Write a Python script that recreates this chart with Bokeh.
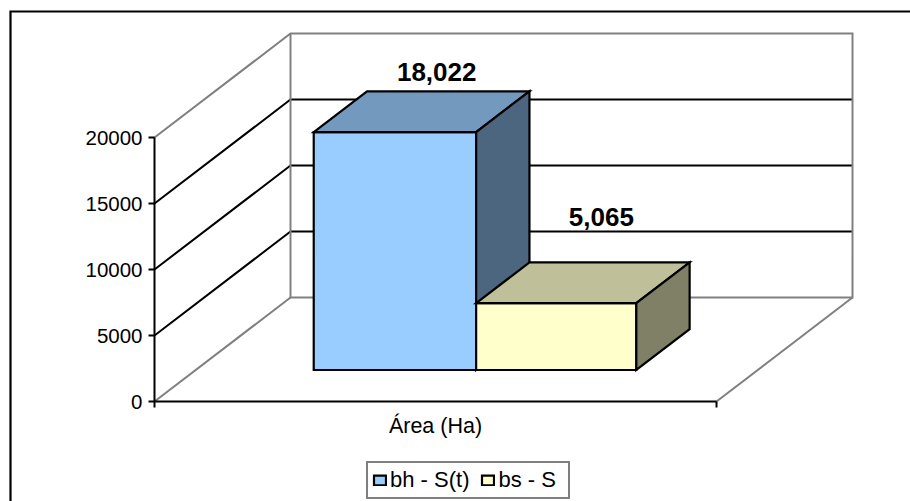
from bokeh.embed import file_html
from bokeh.resources import INLINE
from bokeh.core.properties import value
from bokeh.plotting import figure
from bokeh.models import BasicTickFormatter, FixedTicker, Legend, LegendItem, Range1d

# ---- data
category = "Área (Ha)"
series_names = ["bh - S(t)", "bs - S"]
series_values = [18022, 5065]
value_labels = ["18,022", "5,065"]
y_ticks = [0, 5000, 10000, 15000, 20000]

# ---- style
face_colors = ["#99CCFF", "#FFFFCC"]
top_colors = ["#7399BF", "#BFBF99"]
side_colors = ["#4C6680", "#808066"]
FONT = "Liberation Sans"
TICK_PX = "20.5px"
W, H = 910, 501

# ---- scales: the frame fills the canvas, the axes are pinned at (0, 0)
X0, Y0, X_PX, Y_PX = 154, 401, 562, 264 / 20000

# ---- oblique projection of the 3D category/value/depth box into data space
DEPTH_X = 136 / X_PX
DEPTH_Y = 104 / Y_PX
Y_TOP = y_ticks[-1]


def proj(u, v, d):
    return u + d * DEPTH_X, v + d * DEPTH_Y


def path(points):
    pts = [proj(*pt) for pt in points]
    return [a for a, _ in pts], [b for _, b in pts]


p = figure(width=W, height=H, output_backend="svg", toolbar_location=None,
           x_range=Range1d(-X0 / X_PX, (W - X0) / X_PX), y_range=Range1d(-(H - Y0) / Y_PX, Y0 / Y_PX),
           min_border=0, background_fill_color="white", border_fill_color="white", outline_line_color=None)
p.grid.visible = False

# chart area frame: only its top and left edges are in the picture
frame_left, frame_top = (10 - X0) / X_PX, (Y0 - 11) / Y_PX
p.line([frame_left, frame_left, (W + 5 - X0) / X_PX], [-(H + 5 - Y0) / Y_PX, frame_top, frame_top],
       line_color="black", line_width=2.2, line_join="miter")

# walls and floor
for v in y_ticks[1:-1]:
    xs, ys = path([(0, v, 0), (0, v, 1), (1, v, 1)])
    p.line(xs, ys, line_color="black", line_width=2)
for pts in ([(0, Y_TOP, 0), (0, Y_TOP, 1), (1, Y_TOP, 1), (1, 0, 1), (0, 0, 1), (0, Y_TOP, 1)],
            [(0, 0, 0), (0, 0, 1)], [(1, 0, 0), (1, 0, 1)]):
    xs, ys = path(pts)
    p.line(xs, ys, line_color="#808080", line_width=2, line_join="miter")

# bars
edges = [0.21, 0.499, 0.784]
d0, d1 = 0.303, 0.695
legend_items = []
for i, (name, val) in enumerate(zip(series_names, series_values)):
    u0, u1 = edges[i], edges[i + 1]
    kw = dict(line_color="black", line_width=2.2, line_join="miter")
    xs, ys = path([(u0, 0, d0), (u1, 0, d0), (u1, val, d0), (u0, val, d0)])
    face = p.patch(xs, ys, fill_color=face_colors[i], **kw)
    xs, ys = path([(u0, val, d0), (u1, val, d0), (u1, val, d1), (u0, val, d1)])
    p.patch(xs, ys, fill_color=top_colors[i], **kw)
    xs, ys = path([(u1, 0, d0), (u1, 0, d1), (u1, val, d1), (u1, val, d0)])
    p.patch(xs, ys, fill_color=side_colors[i], **kw)
    legend_items.append(LegendItem(label=name, renderers=[face]))

# value labels
label_lift = [2130, 3900]
label_depth = [0.61, 0.635]
centers = [(edges[i] + edges[i + 1]) / 2 for i in range(2)]
lab = [proj(c, v + l, d) for c, v, l, d in zip(centers, series_values, label_lift, label_depth)]
p.text(x=[a for a, _ in lab], y=[b for _, b in lab], text=value_labels,
       text_font=value(FONT), text_font_style="bold", text_font_size="26px",
       text_align="center", text_baseline="alphabetic", text_color="black")

# axes
xax = p.xaxis[0]
xax.fixed_location = 0
xax.bounds = (0, 1)
xax.ticker = FixedTicker(ticks=[0.5], minor_ticks=[0, 1])
xax.major_label_overrides = {0.5: category}
xax.major_tick_line_color = None
xax.major_tick_in = 0
xax.major_tick_out = 0
xax.minor_tick_in = 0
xax.minor_tick_out = 6
xax.minor_tick_line_color = "black"
xax.minor_tick_line_width = 2
xax.major_label_standoff = 6

yax = p.yaxis[0]
yax.fixed_location = 0
yax.bounds = (0, Y_TOP)
yax.ticker = FixedTicker(ticks=y_ticks, minor_ticks=[])
yax.formatter = BasicTickFormatter(use_scientific=False)
yax.major_tick_in = 0
yax.major_tick_out = 6
yax.major_tick_line_width = 2
yax.major_tick_line_color = "black"
yax.major_label_standoff = 6

for ax in (xax, yax):
    ax.axis_line_color = "black"
    ax.axis_line_width = 2
    ax.major_label_text_font = FONT
    ax.major_label_text_font_size = TICK_PX
    ax.major_label_text_color = "black"
xax.major_label_text_font_size = "21.5px"

# legend
leg = Legend(items=legend_items, orientation="horizontal", location=(366, 2),
             glyph_width=15, glyph_height=12, label_standoff=3, spacing=11, padding=4, margin=0,
             label_height=19, label_width=66,
             label_text_font=FONT, label_text_font_size="22px", label_text_color="black",
             border_line_color="black", border_line_width=2, background_fill_color="white",
             background_fill_alpha=1)
p.add_layout(leg, "center")

open("out.html", "w").write(file_html(p, INLINE))
